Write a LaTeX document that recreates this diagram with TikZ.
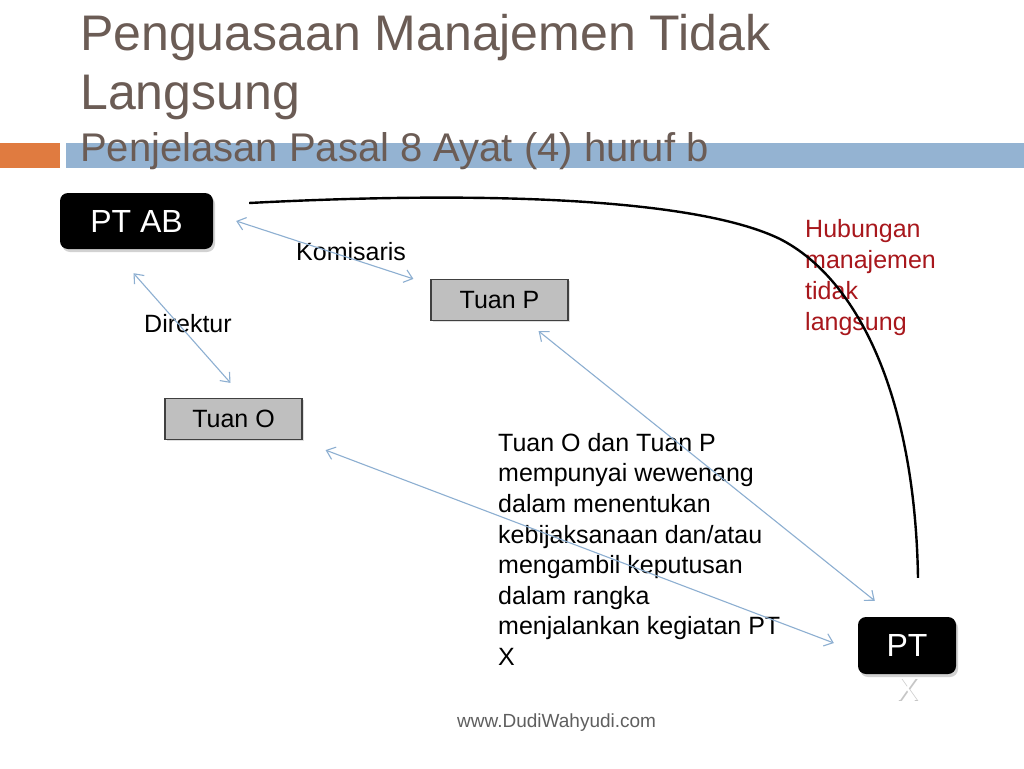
\documentclass[tikz,border=0pt]{standalone}
\usepackage{fontspec}
\setmainfont{Liberation Sans}
\usetikzlibrary{arrows.meta,shadows}
\definecolor{Title}{HTML}{6B5C55}
\definecolor{Accent}{HTML}{E07B40}
\definecolor{Band}{HTML}{94B3D2}
\definecolor{Link}{HTML}{8DAFD1}
\definecolor{Note}{HTML}{A8171C}
\definecolor{BoxGray}{HTML}{BFBFBF}
\definecolor{Footer}{HTML}{5F5F5F}

\begin{document}
\begin{tikzpicture}[
  x=1pt,y=-1pt,
  headline/.style={anchor=base west,inner sep=0pt,text=Title,font=\fontsize{50}{58}\selectfont},
  subline/.style={anchor=base west,inner sep=0pt,text=Title,font=\fontsize{40}{46}\selectfont},
  company/.style={fill=black,rounded corners=8pt,text=white,font=\fontsize{32}{38}\selectfont,
    drop shadow={opacity=0.35,shadow xshift=2pt,shadow yshift=-3pt}},
  person/.style={draw=black!75,line width=1.2pt,fill=BoxGray,minimum width=137pt,minimum height=41pt,
    font=\fontsize{25}{30}\selectfont,drop shadow={opacity=0.25,shadow xshift=1.5pt,shadow yshift=-1.5pt}},
  roletext/.style={anchor=base west,inner sep=0pt,font=\fontsize{25}{30}\selectfont},
  notetext/.style={anchor=north west,inner sep=0pt,align=left,font=\fontsize{25}{30.6}\selectfont},
  link/.style={{Straight Barb[length=8pt,width=13pt]}-{Straight Barb[length=8pt,width=13pt]},color=Link,line width=1.1pt},
  bond/.style={line width=2.4pt}
]
  \useasboundingbox (0,0) rectangle (1024,768);
  \fill[white] (0,0) rectangle (1024,768);

  % title band
  \fill[Accent] (0,143) rectangle (60,168);
  \fill[Band] (66,143) rectangle (1024,168);
  \node[headline] (head) at (80,51) {Penguasaan Manajemen Tidak};
  \node[headline] (head2) at (80,109) {Langsung};
  \node[subline] (sub) at (80,161) {Penjelasan Pasal 8 Ayat (4) huruf b};

  % companies and persons
  \node[company,minimum width=153pt,minimum height=56pt] (ptab) at (136.5,221) {PT AB};
  \node[person] (tuanp) at (499.5,300) {Tuan P};
  \node[person] (tuano) at (233.5,419) {Tuan O};
  \node[company,minimum width=98pt,minimum height=57pt] (ptx) at (907,645.5) {PT};
  \node[anchor=base,inner sep=0pt,text=gray!45,font=\fontsize{32}{38}\selectfont] (ptxshade) at (908.5,701.5) {X};
  \node[anchor=base,inner sep=0pt,text=white,font=\fontsize{32}{38}\selectfont] (ptxtail) at (907,700) {X};

  % texts
  \node[roletext] (kom) at (296,260) {Komisaris};
  \node[roletext] (dir) at (144,332) {Direktur};
  \node[notetext,text=Note,font=\fontsize{25}{31}\selectfont] (hub) at (805,219)
    {Hubungan\\manajemen\\tidak\\langsung};
  \node[notetext] (note) at (498,433)
    {Tuan O dan Tuan P\\mempunyai wewenang\\dalam menentukan\\kebijaksanaan dan/atau\\mengambil keputusan\\dalam rangka\\menjalankan kegiatan PT\\X};
  \node[anchor=base west,inner sep=0pt,text=Footer,font=\fontsize{19}{22}\selectfont] (web) at (457,727) {www.DudiWahyudi.com};

  % connectors
  \draw[link] ([xshift=23pt]ptab.east) -- ([xshift=-17pt]tuanp.north west);
  \draw[link] ([shift={(-3pt,-24pt)}]ptab.south) -- ([shift={(-3pt,15pt)}]tuano.north);
  \draw[link] ([shift={(-30pt,-10pt)}]tuanp.south east) -- ([shift={(17pt,16pt)}]ptx.north west);
  \draw[link] ([shift={(23pt,-10pt)}]tuano.south east) -- ([shift={(-24pt,2.5pt)}]ptx.west);
  \draw[bond] ([shift={(36pt,18pt)}]ptab.east) .. controls (500,190) and (700,200) .. (780,239)
    .. controls (860,280) and (915,400) .. ([shift={(11pt,39pt)}]ptx.north);
\end{tikzpicture}
\end{document}
